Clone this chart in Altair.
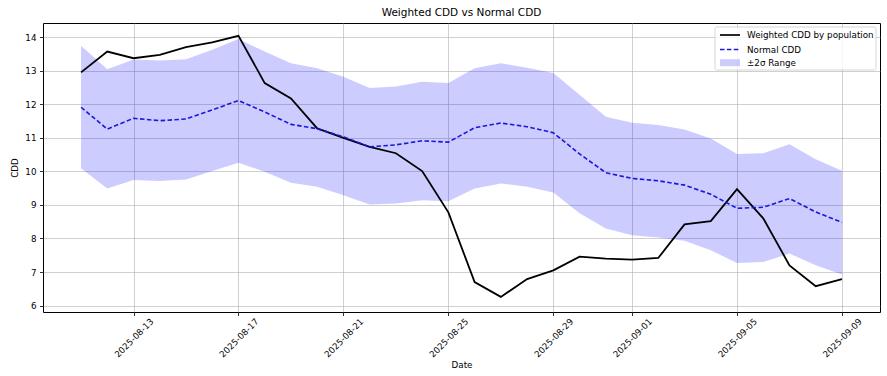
import altair as alt
import pandas as pd

dates = pd.date_range("2025-08-11", "2025-09-09", freq="D").strftime("%Y-%m-%d").tolist()

weighted = [12.95, 13.57, 13.37, 13.47, 13.70, 13.84, 14.04, 12.63, 12.17, 11.28,
            11.00, 10.73, 10.54, 10.01, 8.78, 6.70, 6.26, 6.79, 7.05, 7.46,
            7.40, 7.37, 7.42, 8.42, 8.52, 9.47, 8.60, 7.20, 6.58, 6.79]

normal = [11.91, 11.26, 11.58, 11.51, 11.56, 11.83, 12.11, 11.77, 11.40, 11.27,
          11.03, 10.73, 10.79, 10.91, 10.87, 11.30, 11.44, 11.33, 11.15, 10.52,
          9.96, 9.79, 9.72, 9.59, 9.32, 8.90, 8.93, 9.19, 8.79, 8.48]

upper = [13.74, 13.04, 13.33, 13.30, 13.34, 13.62, 13.94, 13.57, 13.22, 13.07,
         12.82, 12.48, 12.53, 12.67, 12.63, 13.07, 13.22, 13.09, 12.93, 12.28,
         11.63, 11.45, 11.38, 11.25, 10.98, 10.52, 10.54, 10.81, 10.36, 10.02]

lower = [10.09, 9.49, 9.74, 9.71, 9.76, 10.01, 10.26, 9.99, 9.66, 9.54,
         9.29, 9.01, 9.04, 9.14, 9.11, 9.49, 9.64, 9.54, 9.37, 8.75,
         8.30, 8.10, 8.03, 7.93, 7.65, 7.27, 7.30, 7.55, 7.20, 6.93]

series_names = ["Weighted CDD by population", "Normal CDD", "±2σ Range"]
tick_dates = ["2025-08-13", "2025-08-17", "2025-08-21", "2025-08-25",
              "2025-08-29", "2025-09-01", "2025-09-05", "2025-09-09"]
y_ticks = [6, 7, 8, 9, 10, 11, 12, 13, 14]


def ms(s):
    return int(pd.Timestamp(s, tz="UTC").value // 10**6)


day = 86400000
x_domain = [ms(dates[0]) - int(1.45 * day), ms(dates[-1]) + int(1.45 * day)]
x_ticks = [ms(d) for d in tick_dates]

band_df = pd.DataFrame({"date": dates, "lower": lower, "upper": upper,
                        "series": series_names[2]})
w_df = pd.DataFrame({"date": dates, "value": weighted, "series": series_names[0]})
n_df = pd.DataFrame({"date": dates, "value": normal, "series": series_names[1]})

FONT = "DejaVu Sans"
FS = 8.75
BLUE = "#1818dd"
LX = 676             # legend symbol left, relative to plot
LY = [1.0, 15.5, 28.7]  # legend rows (top of entry), relative to plot

x_enc = alt.X("date:T", title="Date",
              scale=alt.Scale(type="utc", domain=x_domain, nice=False),
              axis=alt.Axis(values=x_ticks,
                            labelExpr="utcFormat(datum.value, '%Y-%m-%d')",
                            labelAngle=-45, labelAlign="center", labelBaseline="middle",
                            labelPadding=22, titlePadding=2))

y_scale = alt.Scale(domain=[5.81, 14.42], nice=False, zero=False)
y_axis = alt.Axis(values=y_ticks, tickCount=9, titlePadding=5, labelPadding=3.5)


def make_legend(row, symbol_type, dash=None):
    kw = dict(title=None, orient="none", legendX=LX, legendY=LY[row],
              padding=0, labelFont=FONT, labelFontSize=FS, labelColor="black",
              symbolSize=400, symbolType=symbol_type, labelOffset=6,
              symbolStrokeWidth=1.7)
    if dash is not None:
        kw["symbolDash"] = dash
    return alt.Legend(**kw)


frame = alt.Chart(pd.DataFrame({"k": [0]})).mark_rect(
    fill="white", fillOpacity=0.8, stroke="#cccccc", strokeWidth=0.8, cornerRadius=2
).encode(x=alt.value(672), x2=alt.value(833), y=alt.value(4), y2=alt.value(47))

band = alt.Chart(band_df).mark_area(opacity=0.2).encode(
    x=x_enc,
    y=alt.Y("lower:Q", title="CDD", scale=y_scale, axis=y_axis),
    y2="upper:Q",
    color=alt.Color("series:N", scale=alt.Scale(domain=[series_names[2]], range=["#0000ff"]),
                    legend=make_legend(2, "M-1,-0.35H1V0.35H-1Z")),
)

w_line = alt.Chart(w_df).mark_line(strokeWidth=1.8).encode(
    x=x_enc,
    y=alt.Y("value:Q", title="CDD", scale=y_scale, axis=y_axis),
    color=alt.Color("series:N", scale=alt.Scale(domain=[series_names[0]], range=["black"]),
                    legend=make_legend(0, "stroke")),
)

n_line = alt.Chart(n_df).mark_line(strokeWidth=1.6, strokeDash=[4.5, 2.4]).encode(
    x=x_enc,
    y=alt.Y("value:Q", title="CDD", scale=y_scale, axis=y_axis),
    color=alt.Color("series:N", scale=alt.Scale(domain=[series_names[1]], range=[BLUE]),
                    legend=make_legend(1, "stroke", dash=[4.5, 2.4])),
)

chart = alt.layer(band, w_line, n_line, frame).resolve_scale(
    color="independent"
).properties(
    width=837, height=289,
    title=alt.Title("Weighted CDD vs Normal CDD", font=FONT, fontSize=10.5,
                    fontWeight="normal", color="black", offset=5),
    autosize=alt.AutoSizeParams(type="none"),
    padding={"left": 43, "top": 23, "right": 7, "bottom": 64},
).configure_view(
    stroke="black", strokeWidth=1
).configure_axis(
    labelFont=FONT, labelFontSize=FS, labelColor="black",
    titleFont=FONT, titleFontSize=FS, titleColor="black", titleFontWeight="normal",
    domain=False, tickColor="black", tickSize=3.5, tickWidth=0.8,
    gridColor="#b0b0b0", gridWidth=0.8, gridOpacity=0.75,
)

chart.save("out.html", embed_options={"renderer": "svg", "actions": False})
